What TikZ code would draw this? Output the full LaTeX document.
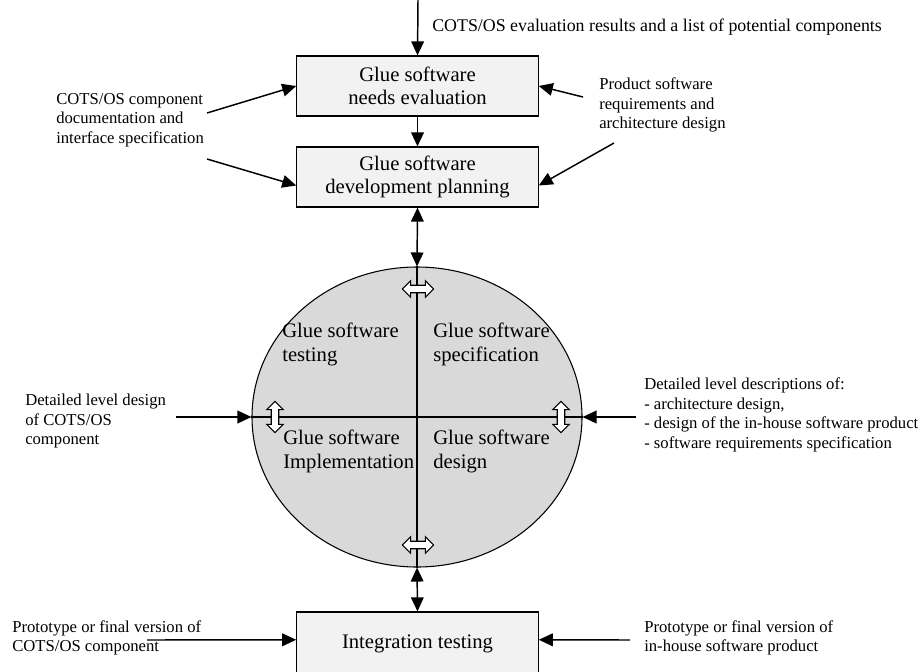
\documentclass[tikz,border=0pt]{standalone}
\usepackage{fontspec}
\setmainfont{Liberation Serif}
\usetikzlibrary{arrows.meta,shapes.geometric,shapes.arrows}

\begin{document}
\begin{tikzpicture}[x=0.75pt, y=-0.75pt,
    flow/.style={line width=1.1pt, -{Triangle[length=10.5pt,width=9.5pt]}},
    twoway/.style={line width=1.1pt, {Triangle[length=10.5pt,width=9.5pt]}-{Triangle[length=10.5pt,width=9.5pt]}},
    stage/.style={draw, line width=0.9pt, fill=black!5, minimum width=181pt, minimum height=45pt,
        align=center, inner sep=0pt, font=\fontsize{15.5}{17.5}\selectfont},
    note/.style={anchor=west, align=left, inner sep=0pt, font=\fontsize{12.5}{14.6}\selectfont},
    quad/.style={anchor=west, align=left, inner sep=0pt, font=\fontsize{15.5}{18}\selectfont},
    swap/.style={double arrow, draw, fill=white, line width=0.8pt, minimum height=23.5pt,
        minimum width=11.5pt, inner sep=2.4pt, double arrow head extend=3.4pt}]
    \clip (0,0) rectangle (923,671);

    % Boites principales
    \node[stage] (need) at (417.5,86) {Glue software\\needs evaluation};
    \node[stage] (plan) at (417.5,177) {Glue software\\development planning};
    \node[stage, minimum height=48pt] (integ) at (417.5,644) {Integration testing};

    % Cycle de developpement
    \node[ellipse, draw, line width=0.8pt, fill=black!15, minimum width=247.5pt,
        minimum height=225pt, inner sep=0pt] (cyc) at (417,417) {};
    \draw[line width=0.8pt] (cyc.north) -- (cyc.south);
    \draw[line width=0.8pt] (cyc.west) -- (cyc.east);
    \node[quad] (tst) at (282,344) {Glue software\\testing};
    \node[quad] (spc) at (433,344) {Glue software\\specification};
    \node[quad] (imp) at (283,451) {Glue software\\Implementation};
    \node[quad] (dsg) at (433,451) {Glue software\\design};
    \node[swap] (sw1) at (418,289) {};
    \node[swap] (sw2) at (418,545) {};
    \node[swap, rotate=90] (sw3) at (275,417) {};
    \node[swap, rotate=90] (sw4) at (561,417) {};

    % Entrees (textes)
    \node[note, font=\fontsize{13.4}{15}\selectfont] (evalres) at (432,27) {COTS/OS evaluation results and a list of potential components};
    \node[note] (compdoc) at (56,120) {COTS/OS component\\documentation and\\interface specification};
    \node[note] (prodreq) at (599,105) {Product software\\requirements and\\architecture design};
    \node[note] (detcots) at (25,421) {Detailed level design\\of COTS/OS\\component};
    \node[note] (detdesc) at (644,415) {Detailed level descriptions of:\\- architecture design,\\- design of the in-house software product\\- software requirements specification};
    \node[note] (protoc) at (12,638) {Prototype or final version of\\COTS/OS component};
    \node[note] (protoh) at (644,638) {Prototype or final version of\\in-house software product};

    % Points de depart des fleches
    \coordinate (topin) at (418,0);
    \coordinate (docA) at (207,113);
    \coordinate (docB) at (207,159);
    \coordinate (reqA) at (583,97);
    \coordinate (reqB) at (614,143);
    \coordinate (detL) at (176,417);
    \coordinate (detR) at (636,417);
    \coordinate (proL) at (147,640);
    \coordinate (proR) at (630,640);

    % Fleches
    \draw[flow] (topin) -- (need.north);
    \draw[flow] (need.south) -- (plan.north);
    \draw[flow] (docA) -- (need.west);
    \draw[flow] (docB) -- (plan.184);
    \draw[flow] (reqA) -- (need.east);
    \draw[flow] (reqB) -- (plan.-4);
    \draw[twoway] (plan.south) -- (cyc.north);
    \draw[twoway] (cyc.south) -- (integ.north);
    \draw[flow] (detL) -- (cyc.west);
    \draw[flow] (detR) -- (cyc.east);
    \draw[flow] (proL) -- (integ.178);
    \draw[flow] (proR) -- (integ.2);
\end{tikzpicture}
\end{document}
